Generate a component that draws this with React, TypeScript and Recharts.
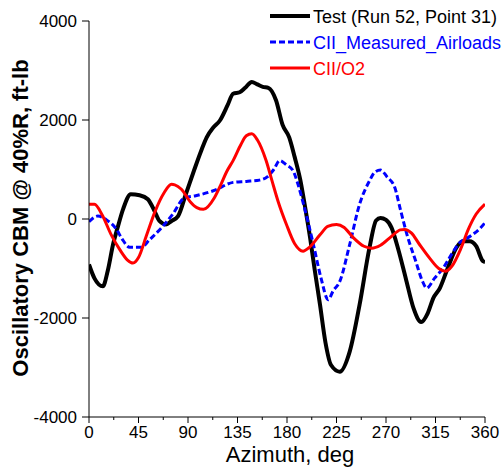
import { Legend, Line, LineChart, XAxis, YAxis } from "recharts";

// azimuth (deg) / moment (ft-lb)
const testDeg = [0, 5, 12.6, 17, 22, 26, 31, 38, 46, 53.5, 59.6, 64, 70, 75, 81, 88, 95, 102, 107, 113, 119, 126, 131, 137, 142, 148, 153, 158, 163, 170, 176, 182, 187, 192, 196, 201, 205, 210, 215, 220, 228, 237, 246, 255, 261, 265, 270, 275, 281, 288, 295, 302, 308, 313, 319, 326, 334, 340, 346, 352, 358, 360];
const testVal = [-920, -1200, -1360, -1050, -500, -175, 200, 500, 480, 400, 160, -40, -110, -40, 60, 500, 950, 1380, 1650, 1850, 1990, 2300, 2530, 2560, 2650, 2770, 2720, 2670, 2650, 2400, 1900, 1650, 1250, 800, 300, -380, -1000, -1730, -2500, -2950, -3085, -2680, -1730, -580, -30, 20, -20, -175, -600, -1200, -1800, -2080, -1900, -1600, -1395, -1000, -580, -450, -450, -550, -850, -870];

const measDeg = [0, 8, 16, 25, 30, 37, 43, 47.5, 55, 66, 76, 87, 97, 113, 131, 143, 155, 162, 168, 173.4, 179, 185.5, 190, 195, 204, 211, 217.4, 222, 228, 237, 246, 255, 260, 265, 271, 278, 283, 289, 297, 303, 307, 314, 322, 330, 337, 343, 349, 355, 360];
const measVal = [-55, 60, -20, -210, -400, -570, -570, -570, -420, -175, 95, 430, 470, 570, 740, 760, 785, 850, 1000, 1180, 1100, 975, 700, 300, -515, -1200, -1630, -1450, -1260, -515, 300, 770, 950, 990, 850, 635, 200, -310, -850, -1250, -1395, -1200, -990, -700, -480, -400, -310, -200, -75];

const o2Deg = [0, 5, 12, 20, 28, 35, 40, 45, 52, 60, 68, 75, 78, 84, 92, 98, 104, 114, 120, 125, 131, 138, 143, 148, 153, 161, 166, 172, 179.5, 187, 194.6, 200, 210, 217, 225, 232, 240, 250, 257, 265, 275, 283, 287, 293, 300, 310, 318, 324, 330, 338, 345, 352, 360];
const o2Val = [300, 300, 80, -310, -620, -830, -890, -780, -350, 150, 520, 700, 690, 600, 350, 230, 195, 430, 700, 950, 1180, 1500, 1680, 1720, 1600, 1180, 800, 350, -110, -500, -650, -580, -320, -150, -110, -170, -370, -550, -590, -530, -350, -220, -210, -280, -500, -800, -1000, -1055, -950, -600, -200, 100, 300];

const xTicks = [0, 22.5, 45, 67.5, 90, 112.5, 135, 157.5, 180, 202.5, 225, 247.5, 270, 292.5, 315, 337.5, 360];
const yTicks = [-4000, -2000, 0, 2000, 4000];

const series = [
  { name: "Test (Run 52, Point 31)", color: "#000000", width: 4, dash: undefined, deg: testDeg, val: testVal },
  { name: "CII_Measured_Airloads", color: "#0000ff", width: 3, dash: "6 3", deg: measDeg, val: measVal },
  { name: "CII/O2", color: "#ff0000", width: 3, dash: undefined, deg: o2Deg, val: o2Val },
];

const FONT = "'Liberation Sans', Arial, sans-serif";

function toRows(deg: number[], val: number[]) {
  return deg.map((d, i) => ({ deg: d, v: val[i] }));
}

function XTick(props: any) {
  const { x, y, payload } = props;
  const major = payload.value % 45 === 0;
  return (
    <g>
      <line x1={x} x2={x} y1={y} y2={y + (major ? 6 : 3)} stroke="#000" />
      {major && (
        <text x={x} y={y + 21} textAnchor="middle" fontSize={17} fontFamily={FONT} fill="#000">
          {payload.value}
        </text>
      )}
    </g>
  );
}

function LegendBox() {
  return (
    <svg width={502} height={90} style={{ display: "block" }}>
      {series.map((s, i) => {
        const y = 16 + i * 26;
        return (
          <g key={s.name}>
            <line x1={270} x2={310} y1={y} y2={y} stroke={s.color} strokeWidth={s.width} strokeDasharray={s.dash} />
            <text x={313} y={y + 7} fontSize={18} fontFamily={FONT} fill={s.color}>
              {s.name}
            </text>
          </g>
        );
      })}
    </svg>
  );
}

export default function App() {
  return (
    <div style={{ position: "absolute", left: 0, top: 0, width: 502, height: 470, overflow: "hidden", background: "#fff" }}>
      <LineChart width={502} height={470} margin={{ top: 21, right: 17, bottom: 23, left: 0 }}>
        <XAxis
          type="number"
          dataKey="deg"
          domain={[0, 360]}
          ticks={xTicks}
          interval={0}
          height={30}
          stroke="#000"
          tickLine={false}
          tickSize={0}
          tickMargin={0}
          tick={<XTick />}
          allowDataOverflow
          label={{
            value: "Azimuth, deg",
            position: "insideBottom",
            content: () => (
              <text x={290} y={462} textAnchor="middle" fontSize={22} fontFamily={FONT} fill="#000">
                Azimuth, deg
              </text>
            ),
          }}
        />
        <YAxis
          type="number"
          domain={[-4000, 4000]}
          ticks={yTicks}
          interval={0}
          width={89}
          stroke="#000"
          tickSize={7}
          tickMargin={5}
          tick={{ fontSize: 17, fill: "#000", fontFamily: FONT }}
          allowDataOverflow
          label={{
            value: "Oscillatory CBM @ 40%R, ft-lb",
            position: "insideLeft",
            content: () => (
              <text
                x={28}
                y={218}
                transform="rotate(-90 28 218)"
                textAnchor="middle"
                fontSize={22}
                fontWeight="bold"
                fontFamily={FONT}
                fill="#000"
              >
                Oscillatory CBM @ 40%R, ft-lb
              </text>
            ),
          }}
        />
        <Legend
          layout="vertical"
          align="center"
          verticalAlign="middle"
          content={() => <LegendBox />}
          wrapperStyle={{ position: "absolute", left: 0, top: 0, width: 502, height: 90 }}
        />
        {series.map((s) => (
          <Line
            key={s.name}
            name={s.name}
            data={toRows(s.deg, s.val)}
            dataKey="v"
            type="monotone"
            stroke={s.color}
            strokeWidth={s.width}
            strokeDasharray={s.dash}
            dot={false}
            activeDot={false}
            isAnimationActive={false}
          />
        ))}
      </LineChart>
    </div>
  );
}
